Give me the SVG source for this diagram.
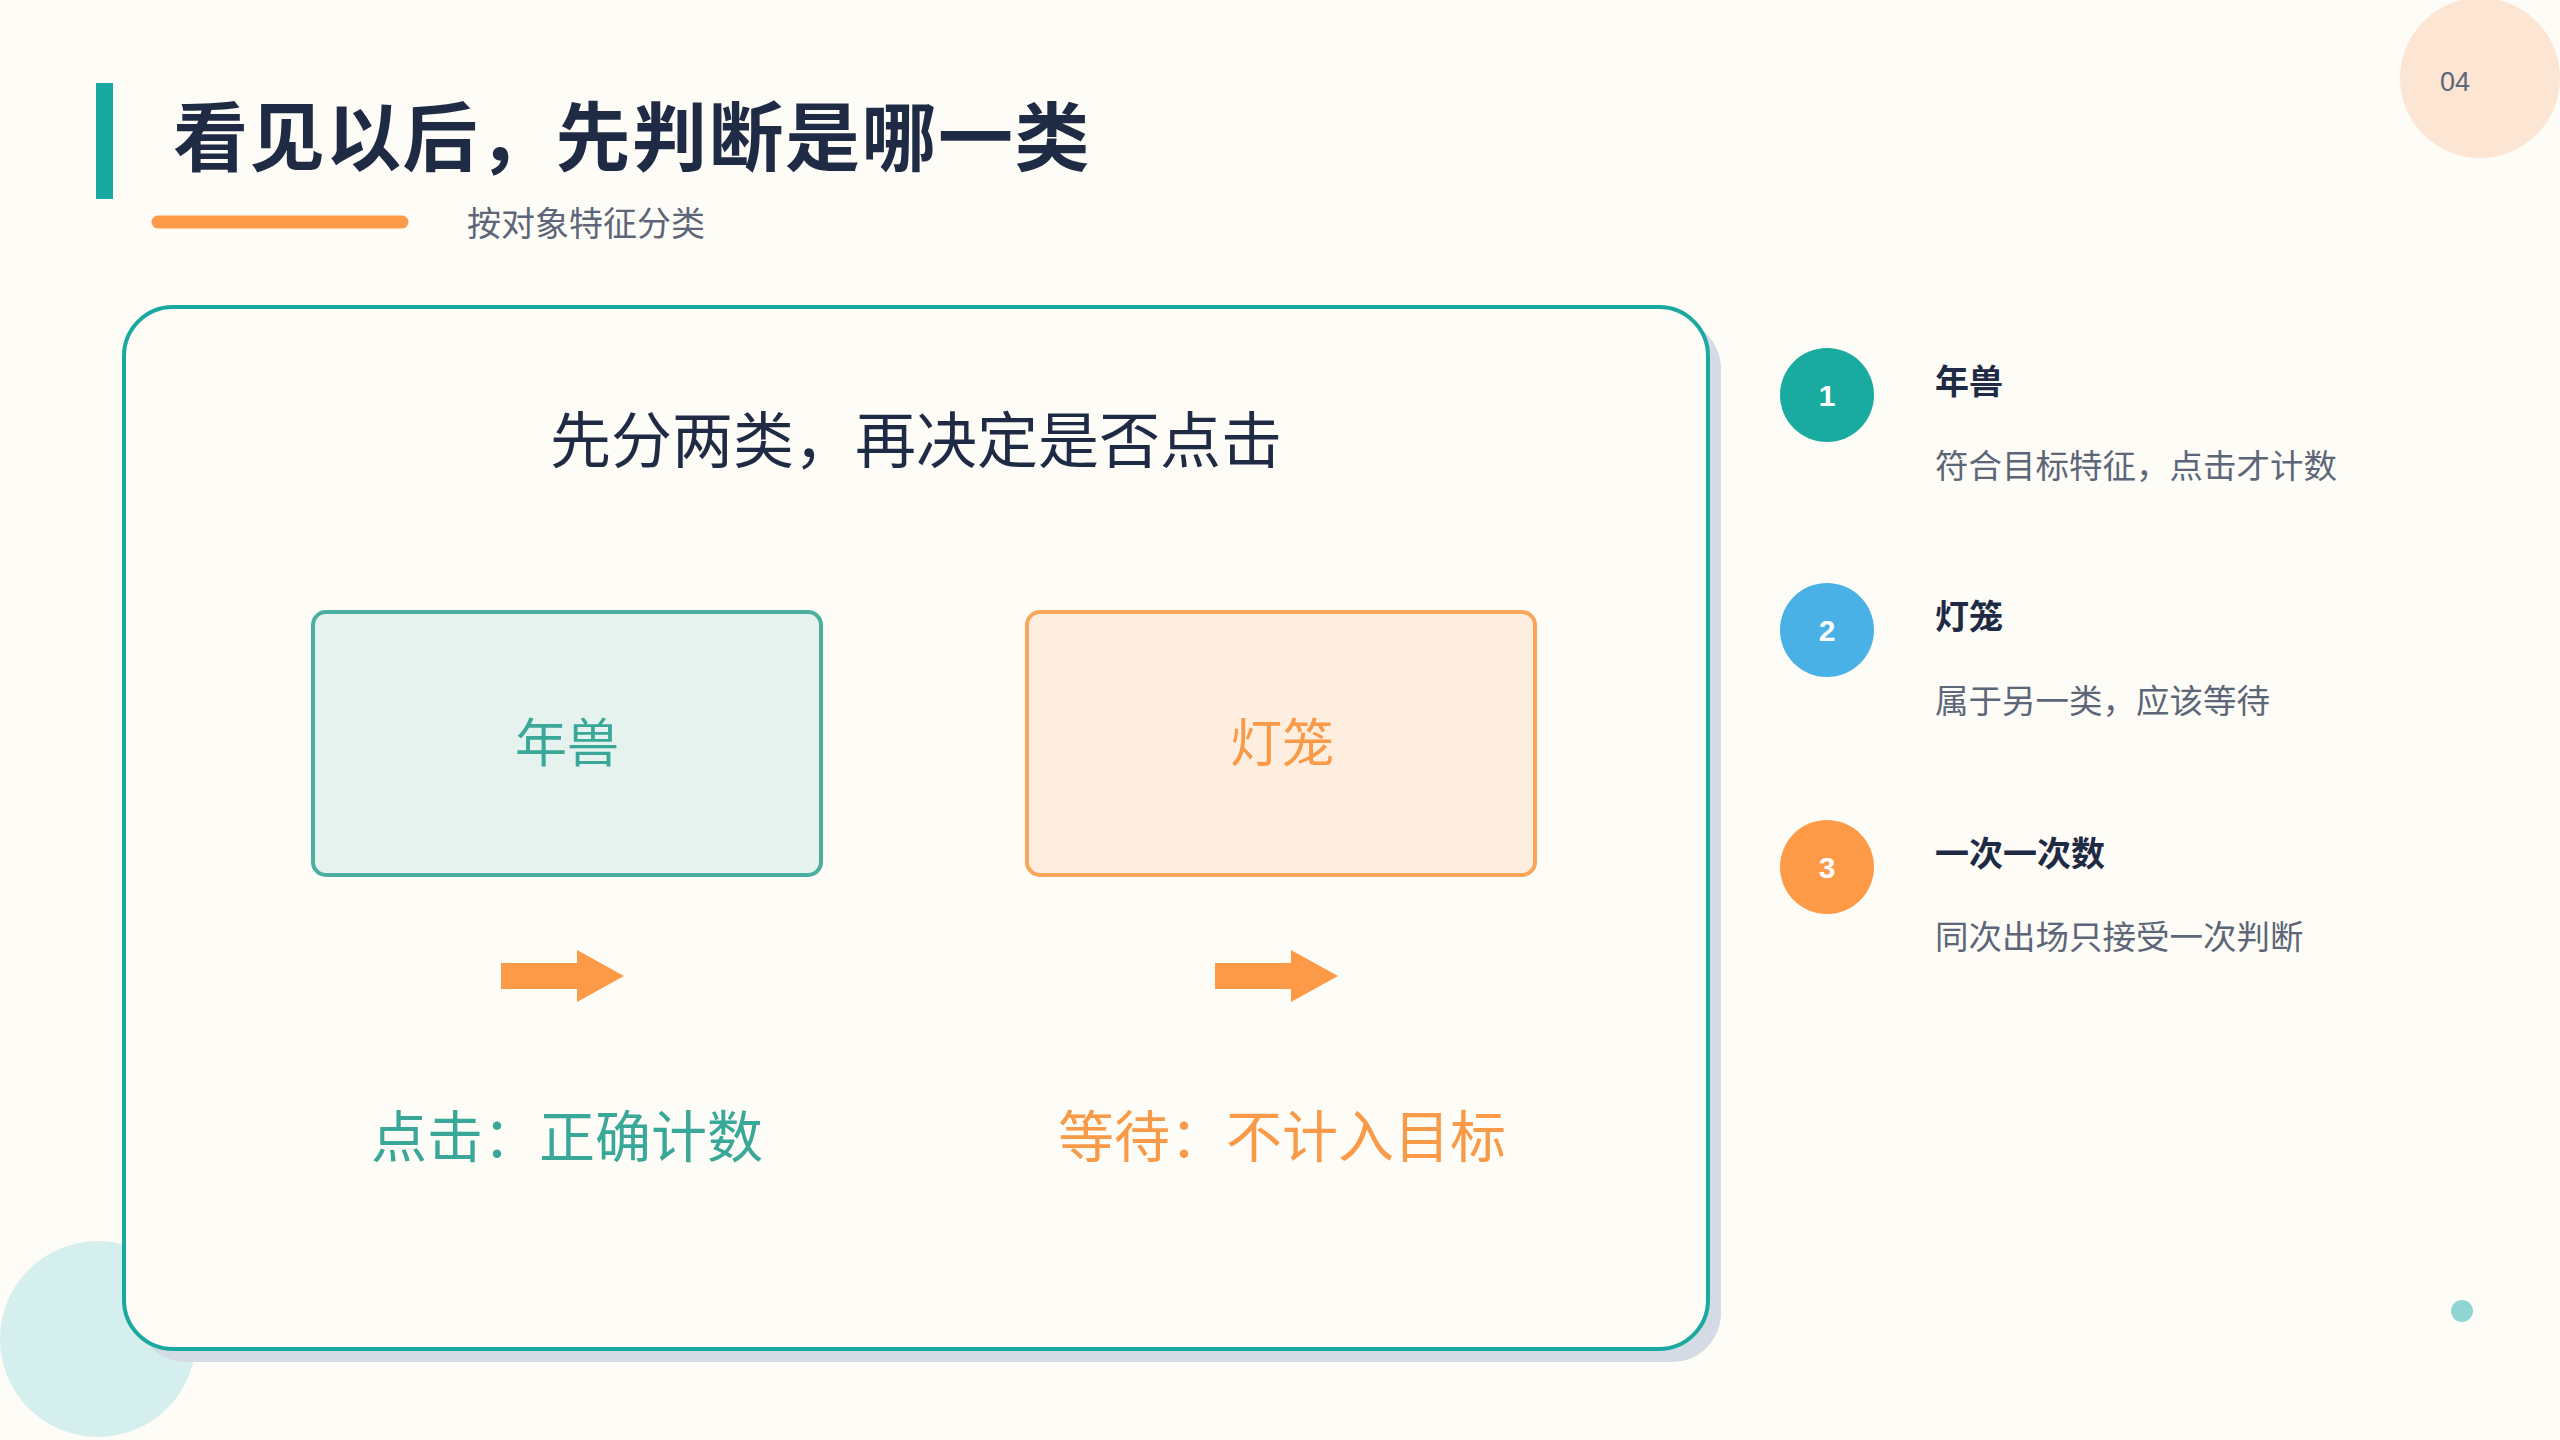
<svg xmlns="http://www.w3.org/2000/svg" width="2560" height="1440" viewBox="0 0 2560 1440">
<style>
text{font-family:"Noto Sans CJK SC","Liberation Sans",sans-serif}
.h{fill:#1f2a44;font-weight:bold}
.d{fill:#5d6679;font-size:33.5px}
.t{fill:#1f2a44;font-weight:bold;font-size:34px}
.n{fill:#fff;font-size:30px;font-weight:bold;text-anchor:middle;font-family:"Liberation Sans",sans-serif}
</style>
<defs>
<path id="arr" d="M0,-13 H76 V-26 L123,0 L76,26 V13 H0 Z" fill="#fd9a48"/>
</defs>
<rect width="2560" height="1440" fill="#fdfcf6"/>
<circle cx="2480" cy="78" r="80" fill="#fde5d3"/>
<text x="2455" y="91" font-size="27" fill="#5d6679" text-anchor="middle" style="font-family:'Liberation Sans',sans-serif">04</text>
<circle cx="98" cy="1339" r="98" fill="#d5efef"/>
<circle cx="2462" cy="1311" r="11" fill="#8fd6d3"/>
<rect x="96" y="83" width="17" height="116" fill="#1aa9a0"/>
<text x="173" y="165" class="h" font-size="75" letter-spacing="1.5">看见以后，先判断是哪一类</text>
<line x1="158" y1="222" x2="402" y2="222" stroke="#fd9a48" stroke-width="13" stroke-linecap="round"/>
<text x="467" y="236" font-size="34" fill="#5d6679">按对象特征分类</text>
<g id="card">
<rect x="137" y="320" width="1584" height="1042" rx="49" fill="#d5dbe5"/>
<rect x="124" y="307" width="1584" height="1042" rx="49" fill="#fdfcf6" stroke="#1aa9a0" stroke-width="4"/>
<text x="916" y="463" font-size="61" fill="#1f2a44" text-anchor="middle">先分两类，再决定是否点击</text>
</g>
<g id="box1">
<rect x="313" y="612" width="508" height="263" rx="13" fill="#e6f2ee" stroke="#4aaf9f" stroke-width="4"/>
<text x="567" y="762" font-size="52" fill="#3aa898" text-anchor="middle">年兽</text>
</g>
<g id="box2">
<rect x="1027" y="612" width="508" height="263" rx="13" fill="#fdeee0" stroke="#f9a55a" stroke-width="4"/>
<text x="1282" y="762" font-size="52" fill="#f99a48" text-anchor="middle">灯笼</text>
</g>
<g id="connectors">
<use href="#arr" x="501" y="976"/>
<use href="#arr" x="1215" y="976"/>
</g>
<g id="label1"><text x="567" y="1157" font-size="56" fill="#3aa898" text-anchor="middle">点击：正确计数</text></g>
<g id="label2"><text x="1282" y="1157" font-size="56" fill="#f99a48" text-anchor="middle">等待：不计入目标</text></g>
<g id="item1">
<circle cx="1827" cy="395" r="47" fill="#1aaba0"/><text x="1827" y="406" class="n">1</text>
<text x="1935" y="394" class="t">年兽</text>
<text x="1935" y="478" class="d">符合目标特征，点击才计数</text>
</g>
<g id="item2">
<circle cx="1827" cy="630" r="47" fill="#4ab1e6"/><text x="1827" y="641" class="n">2</text>
<text x="1935" y="629" class="t">灯笼</text>
<text x="1935" y="713" class="d">属于另一类，应该等待</text>
</g>
<g id="item3">
<circle cx="1827" cy="867" r="47" fill="#fd9a48"/><text x="1827" y="878" class="n">3</text>
<text x="1935" y="866" class="t">一次一次数</text>
<text x="1935" y="949" class="d">同次出场只接受一次判断</text>
</g>
</svg>
